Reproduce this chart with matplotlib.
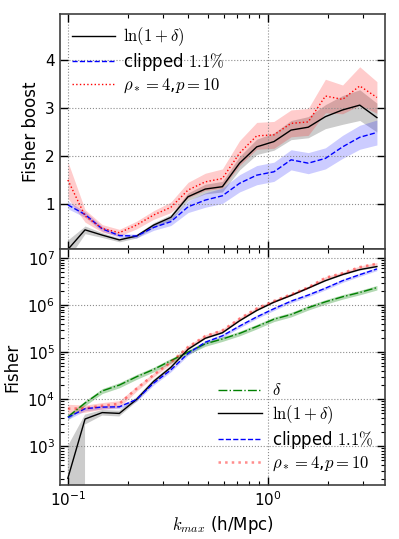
import numpy as np
import matplotlib
matplotlib.use("Agg")
import matplotlib.pyplot as plt
from matplotlib.ticker import FixedLocator

plt.rcParams['mathtext.fontset'] = 'cm'
plt.rcParams['font.family'] = ['DejaVu Sans']

# ---- data ----
k_max = [0.100, 0.1219, 0.1485, 0.1809, 0.2205, 0.2686, 0.3273, 0.3988, 0.4860,
         0.5922, 0.7216, 0.8793, 1.0714, 1.3055, 1.5907, 1.9383, 2.3618, 2.8779, 3.5068]

# Fisher boost (top panel)
boost_log = [0.05, 0.46, 0.35, 0.25, 0.33, 0.56, 0.72, 1.15, 1.31, 1.36, 1.85, 2.19,
             2.30, 2.54, 2.60, 2.82, 2.96, 3.06, 2.80]
boost_log_err = [0.20, 0.08, 0.05, 0.04, 0.04, 0.05, 0.06, 0.08, 0.10, 0.11, 0.14, 0.16,
                 0.18, 0.20, 0.22, 0.25, 0.30, 0.32, 0.30]
boost_clip = [0.98, 0.78, 0.48, 0.34, 0.33, 0.51, 0.63, 0.94, 1.08, 1.17, 1.43, 1.60,
              1.67, 1.92, 1.85, 1.95, 2.19, 2.39, 2.49]
boost_clip_err = [0.08, 0.06, 0.05, 0.04, 0.04, 0.06, 0.08, 0.12, 0.15, 0.16, 0.18, 0.20,
                  0.20, 0.21, 0.22, 0.22, 0.24, 0.25, 0.26]
boost_rho = [1.50, 0.75, 0.49, 0.40, 0.56, 0.77, 0.93, 1.29, 1.46, 1.53, 2.06, 2.42,
             2.44, 2.68, 2.71, 3.25, 3.18, 3.46, 3.22]
boost_rho_err = [0.38, 0.13, 0.08, 0.07, 0.08, 0.09, 0.11, 0.16, 0.18, 0.20, 0.26, 0.28,
                 0.28, 0.28, 0.28, 0.35, 0.30, 0.40, 0.33]

# Fisher (bottom panel)
fisher_delta = [4.2e3, 8.3e3, 1.5e4, 2.0e4, 3.0e4, 4.3e4, 6.6e4, 1.0e5, 1.5e5, 1.9e5,
                2.5e5, 3.5e5, 5.0e5, 6.3e5, 8.8e5, 1.17e6, 1.5e6, 1.85e6, 2.35e6]
fisher_delta_err = [0.5e3, 1.0e3, 1.8e3, 2.5e3, 3.6e3, 5.0e3, 7.5e3, 1.1e4, 1.7e4, 2.1e4,
                    2.8e4, 3.9e4, 5.5e4, 7.0e4, 9.7e4, 1.3e5, 1.65e5, 2.0e5, 2.6e5]
fisher_log = [210, 3.8e3, 5.2e3, 5.0e3, 9.9e3, 2.4e4, 4.75e4, 1.15e5, 1.97e5, 2.58e5,
              4.63e5, 7.67e5, 1.15e6, 1.6e6, 2.29e6, 3.3e6, 4.44e6, 5.66e6, 6.58e6]
fisher_log_err = [800, 0.9e3, 0.7e3, 0.7e3, 1.1e3, 2.2e3, 3.5e3, 7e3, 1.0e4, 1.3e4,
                  2.3e4, 3.8e4, 5.7e4, 8e4, 1.1e5, 1.6e5, 2.2e5, 2.8e5, 3.3e5]
fisher_clip = [4.1e3, 6.3e3, 6.8e3, 6.9e3, 9.9e3, 2.2e4, 4.2e4, 9.4e4, 1.62e5, 2.22e5,
               3.58e5, 5.6e5, 8.35e5, 1.21e6, 1.63e6, 2.28e6, 3.29e6, 4.42e6, 5.85e6]
fisher_clip_err = [0.4e3, 0.6e3, 0.6e3, 0.6e3, 0.9e3, 2.0e3, 3.8e3, 8.5e3, 1.4e4, 1.9e4,
                   3.0e4, 4.6e4, 6.8e4, 9.8e4, 1.3e5, 1.8e5, 2.6e5, 3.5e5, 4.6e5]
fisher_rho = [6.3e3, 6.4e3, 7.3e3, 8.0e3, 1.68e4, 3.3e4, 6.1e4, 1.29e5, 2.19e5, 2.9e5,
              5.15e5, 8.47e5, 1.22e6, 1.69e6, 2.38e6, 3.8e6, 4.77e6, 6.4e6, 7.57e6]
fisher_rho_err = [1.5e3, 1.1e3, 1.2e3, 1.3e3, 2.0e3, 3.3e3, 5.5e3, 1.0e4, 1.6e4, 2.0e4,
                  3.3e4, 5.2e4, 7.3e4, 1.0e5, 1.4e5, 2.2e5, 2.7e5, 3.6e5, 4.2e5]

labels = [r'$\delta$', r'$\ln(1+\delta)$', r'clipped $1.1\%$', r'$\rho_*=4$,$p=10$']

k = np.array(k_max)

def arr(a):
    return np.array(a, dtype=float)

fig = plt.figure(figsize=(3.99, 5.39), dpi=100)
ax1 = fig.add_axes([0.150, 0.538, 0.815, 0.436])
ax2 = fig.add_axes([0.150, 0.100, 0.815, 0.438], sharex=ax1)

# ---- top panel ----
for y, e, c, ls, lab in [
        (boost_log, boost_log_err, 'k', '-', labels[1]),
        (boost_clip, boost_clip_err, 'b', '--', labels[2]),
        (boost_rho, boost_rho_err, 'r', ':', labels[3])]:
    y = arr(y); e = arr(e)
    fc = '0.5' if c == 'k' else c
    ax1.fill_between(k, y - e, y + e, color=fc, alpha=0.4 if c == 'k' else 0.2, lw=0)
    ax1.plot(k, y, color=c, ls=ls, lw=1.0, label=lab)

ax1.set_xscale('log')
ax1.set_xlim(0.0912, 3.85)
ax1.set_ylim(0.06, 4.96)
ax1.yaxis.set_major_locator(FixedLocator([1, 2, 3, 4]))
ax1.set_ylabel('Fisher boost', fontsize=12)
ax1.legend(loc='upper left', frameon=False, fontsize=12, handlelength=2.6,
           handletextpad=0.5, borderaxespad=0.3, labelspacing=0.15)
plt.setp(ax1.get_xticklabels(), visible=False)

# ---- bottom panel ----
for y, e, c, ls, lab, lw, a, fa in [
        (fisher_delta, fisher_delta_err, 'g', '-.', labels[0], 1.0, 1.0, 0.3),
        (fisher_log, fisher_log_err, 'k', '-', labels[1], 1.0, 1.0, 0.4),
        (fisher_clip, fisher_clip_err, 'b', '--', labels[2], 1.0, 1.0, 0.2),
        (fisher_rho, fisher_rho_err, 'r', ':', labels[3], 1.8, 0.45, 0.2)]:
    y = arr(y); e = arr(e)
    fc = '0.5' if c == 'k' else c
    ax2.fill_between(k, y - e, y + e, color=fc, alpha=fa, lw=0)
    ax2.plot(k, y, color=c, ls=ls, lw=lw, alpha=a, label=lab)

ax2.set_yscale('log')
ax2.set_ylim(150, 1.55e7)
ax2.set_xlim(0.0912, 3.85)
ax2.set_ylabel('Fisher', fontsize=12)
ax2.set_xlabel(r'$k_{max}$ (h/Mpc)', fontsize=12)
ax2.legend(loc='lower right', frameon=False, fontsize=12, handlelength=2.6,
           handletextpad=0.6, borderaxespad=0.3, labelspacing=0.2)

for ax in (ax1, ax2):
    ax.grid(True, which='major', color='0.55', ls=':', lw=0.8)
    ax.tick_params(which='both', direction='in', top=True, right=True, labelsize=11)
    ax.tick_params(which='major', length=6, width=1)
    ax.tick_params(which='minor', length=3, width=0.8)
    for s in ax.spines.values():
        s.set_linewidth(1.2)
        s.set_color('0.25')

fig.savefig('out.png', dpi=100)
